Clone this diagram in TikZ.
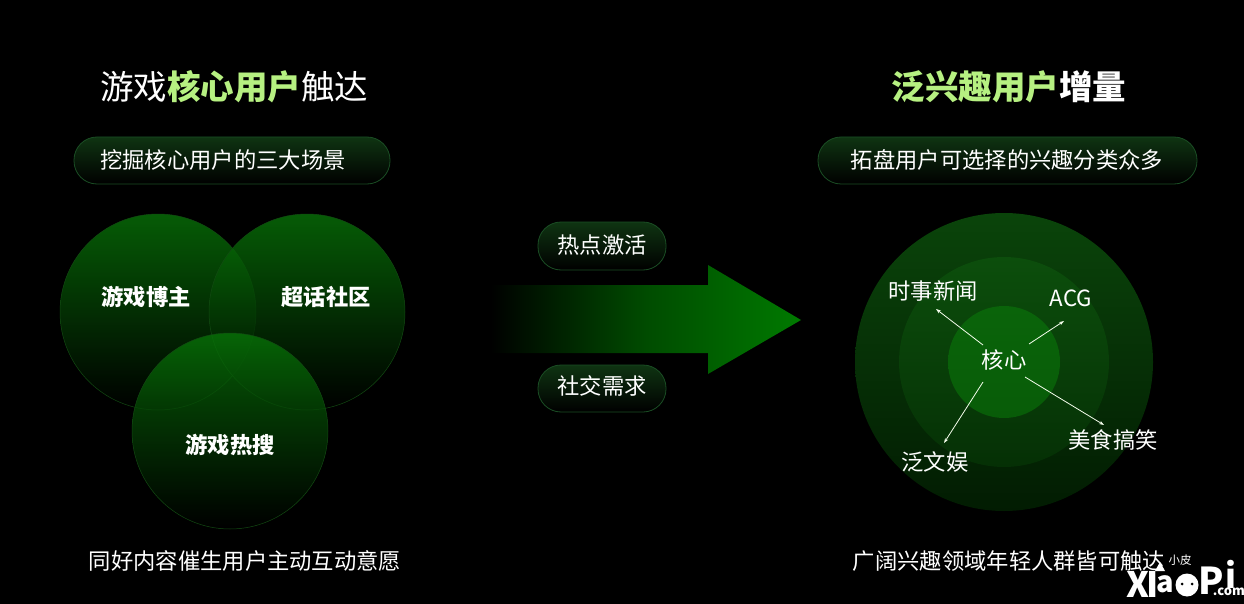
\documentclass[tikz,border=0pt]{standalone}
\usepackage{fontspec}
\setmainfont{Noto Sans CJK SC}
\usepackage{xcolor}
\usetikzlibrary{arrows.meta}
\definecolor{lime}{HTML}{B6F081}
\definecolor{edgegreen}{HTML}{1A4D24}
\definecolor{pilltop}{HTML}{0F3412}
\definecolor{bubbletop}{HTML}{087608}
\definecolor{bubbleedge}{HTML}{124A12}
\definecolor{arrowgreen}{HTML}{007A00}
\definecolor{outertop}{HTML}{0A440A}
\definecolor{outerbot}{HTML}{021C02}
\definecolor{midtop}{HTML}{0C4E0C}
\definecolor{midbot}{HTML}{053005}
\definecolor{innertop}{HTML}{0A640A}
\definecolor{innerbot}{HTML}{085C08}
\newcommand{\hl}[1]{{\color{lime}#1}}

\begin{document}
\begin{tikzpicture}[x=1pt, y=-1pt, text=white, inner sep=0pt,
    title/.style = {font=\fontsize{33.5}{33.5}\selectfont\bfseries},
    pill/.style = {draw=edgegreen, line width=.8pt, rounded corners=23pt, top color=pilltop, bottom color=black},
    tag/.style = {font=\fontsize{22.3}{22.3}\selectfont},
    venn/.style = {circle, minimum size=196pt, top color=bubbletop, bottom color=black, fill opacity=.78, draw=bubbleedge, line width=.5pt},
    venntag/.style = {font=\fontsize{22.3}{22.3}\selectfont\bfseries},
    ring/.style = {circle},
    conn/.style = {draw=white!85!lime, line width=.8pt, -{Stealth[length=5pt, width=3.5pt]}},
    logo/.style = {font=\fontsize{#1}{#1}\selectfont\bfseries}]
\fill[black] (0,0) rectangle (1244,604);
\useasboundingbox (0,0) rectangle (1244,604);

% left column
\node[title] (lefttitle) at (234,87) {{\fontseries{m}\selectfont 游戏}\hl{核心用户}{\fontseries{m}\selectfont 触达}};
\shade[pill] (74,137) rectangle (390,184);
\node[tag] (leftsub) at (223,160) {挖掘核心用户的三大场景};
\node[venn] (blogger) at (158,312) {};
\node[venn] (community) at (307,312) {};
\node[venn] (search) at (230,431) {};
\node[venntag] (bloggertag) at (146,297) {游戏博主};
\node[venntag] (communitytag) at (326,297) {超话社区};
\node[venntag] (searchtag) at (230,445) {游戏热搜};
\node[tag] (leftfoot) at (245,561) {同好内容催生用户主动互动意愿};

% middle
\shade[left color=black, right color=arrowgreen, middle color=black!38!arrowgreen] (490,285) -- (708,285) -- (708,265) -- (801,320) -- (708,374) -- (708,353) -- (490,353) -- cycle;
\shade[pill] (538,222) rectangle (666,270);
\shade[pill] (538,365) rectangle (666,412);
\node[tag] (hotspot) at (602,245) {热点激活};
\node[tag] (social) at (602,386) {社交需求};

% right column
\node[title] (righttitle) at (1009,87) {\hl{泛兴趣用户}增量};
\shade[pill] (818,137) rectangle (1197,184);
\node[tag] (rightsub) at (1007,160) {拓盘用户可选择的兴趣分类众多};
\node[ring, minimum size=298pt, top color=outertop, bottom color=outerbot] (outer) at (1004,362) {};
\node[ring, minimum size=210pt, top color=midtop, bottom color=midbot] (middle) at (1004,362) {};
\node[ring, minimum size=112pt, top color=innertop, bottom color=innerbot] (inner) at (1004,362) {};
\node[tag] (core) at (1004,360) {核心};
\node[tag] (news) at (933,291) {时事新闻};
\node[tag] (acg) at (1071,298) {ACG};
\node[tag] (ent) at (935,462) {泛文娱};
\node[tag] (food) at (1113,440) {美食搞笑};
\coordinate (newsend) at (936,309);
\coordinate (acgend) at (1064,321);
\coordinate (entend) at (944,443);
\coordinate (foodend) at (1104,425);
\draw[conn] (core) ++(-21,-15) -- (newsend);
\draw[conn] (core) ++(25,-16) -- (acgend);
\draw[conn] (core) ++(-21,22) -- (entend);
\draw[conn] (core) ++(21,17) -- (foodend);
\node[tag] (rightfoot) at (1009,561) {广阔兴趣领域年轻人群皆可触达};

% watermark
\node[font=\fontsize{11.5}{11.5}\selectfont] (markcn) at (1180,560) {小皮};
\node[logo=35] (markx) at (1138,584) {X};
\node[logo=35] (marki) at (1153,584) {I};
\node[logo=29] (marka) at (1165,584) {a};
\fill[white] (1155,571) -- (1160,562) -- (1165,571) -- cycle;
\node[circle, fill=white, minimum size=23pt] (markface) at (1187,585) {};
\fill[black] (1182,584) circle (1.5) (1192,584) circle (1.5);
\node[logo=37] (markp) at (1211,581) {P};
\node[logo=34] (marki2) at (1231,574) {i};
\node[logo=13] (markcom) at (1229,592) {.com};
\end{tikzpicture}
\end{document}
